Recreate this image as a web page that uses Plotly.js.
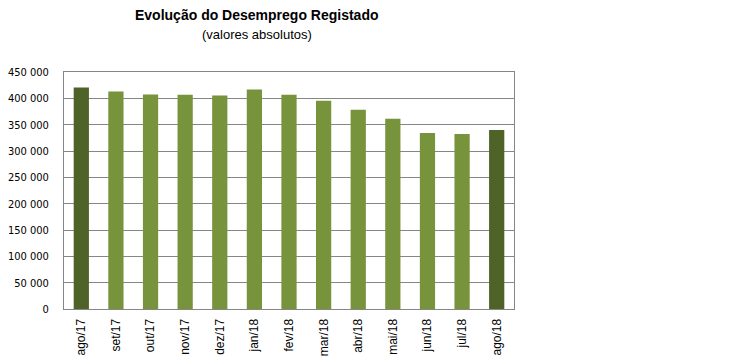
<!DOCTYPE html>
<html>
<head>
<meta charset="utf-8">
<script src="https://cdn.plot.ly/plotly-3.0.1.min.js"></script>
<style>html,body{margin:0;padding:0;background:#fff;}#chart{width:750px;height:362px;}</style>
</head>
<body>
<div id="chart"></div>
<script>
const categories = ["ago/17","set/17","out/17","nov/17","dez/17","jan/18","fev/18","mar/18","abr/18","mai/18","jun/18","jul/18","ago/18"];
const values = [420600, 412900, 407100, 407000, 405200, 416700, 407000, 395600, 378400, 361100, 334300, 332400, 340100];
const darkColor = "#4F6228";
const lightColor = "#77933C";
const barColors = categories.map((c, i) => (i === 0 || i === categories.length - 1) ? darkColor : lightColor);

const trace = {
  type: "bar",
  x: categories,
  y: values,
  marker: {color: barColors, line: {width: 0}},
  hoverinfo: "x+y"
};

const layout = {
  width: 750,
  height: 362,
  margin: {l: 64, r: 236, t: 72, b: 53, pad: 0},
  paper_bgcolor: "#ffffff",
  plot_bgcolor: "#ffffff",
  separators: ", ",
  bargap: 0.56,
  showlegend: false,
  font: {family: "DejaVu Sans, Tahoma, sans-serif", color: "#000"},
  annotations: [
    {text: "<b>Evolução do Desemprego Registado</b>", xref: "paper", yref: "paper", x: (257 - 64) / 450, y: 1, yshift: 57, xanchor: "center", yanchor: "middle", showarrow: false, font: {family: "Liberation Sans, Arial, sans-serif", size: 14, color: "#000"}},
    {text: "(valores absolutos)", xref: "paper", yref: "paper", x: (257 - 64) / 450, y: 1, yshift: 38, xanchor: "center", yanchor: "middle", showarrow: false, font: {family: "Liberation Sans, Arial, sans-serif", size: 13, color: "#000"}}
  ],
  xaxis: {
    type: "category",
    tickangle: -90,
    tickfont: {family: "Liberation Sans, Arial, sans-serif", size: 12, color: "#000"},
    showline: true, linecolor: "#868686", linewidth: 1, mirror: true,
    ticks: "", showgrid: false, ticklabelstandoff: 4,
    fixedrange: true
  },
  yaxis: {
    range: [0, 450000],
    dtick: 50000,
    tick0: 0,
    tickformat: ",.0f",
    tickfont: {family: "DejaVu Sans Condensed, Tahoma, sans-serif", size: 11, color: "#000"},
    showgrid: true, gridcolor: "#868686", gridwidth: 1,
    showline: true, linecolor: "#868686", linewidth: 1, mirror: true,
    zeroline: false,
    ticks: "", ticklabelstandoff: 12,
    fixedrange: true
  }
};

Plotly.newPlot("chart", [trace], layout, {displayModeBar: false, staticPlot: true});
</script>
</body>
</html>
